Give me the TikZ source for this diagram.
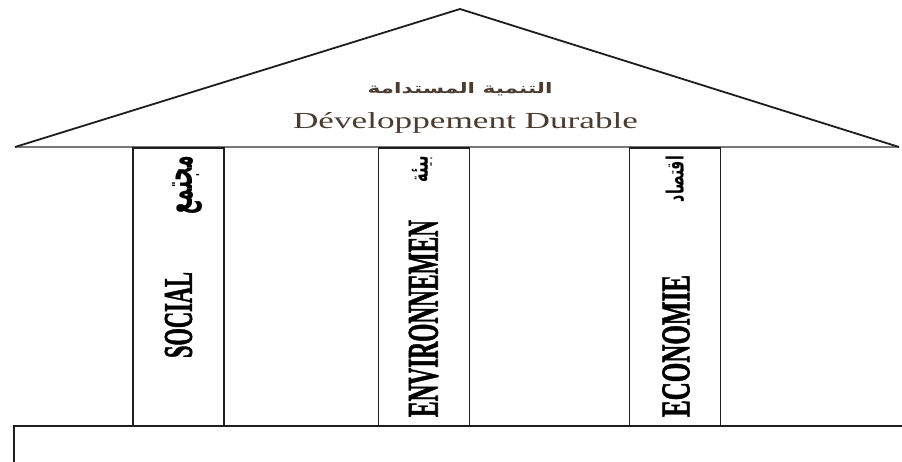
\documentclass[tikz,border=0pt]{standalone}
\usepackage{fontspec}
\usepackage{graphicx}
\setmainfont{Liberation Serif}
\newfontfamily\heavyfont[BoldFeatures={FakeBold=1.6}]{Liberation Serif}
\newfontfamily\arabicfont[Script=Arabic]{DejaVu Sans}
\TeXXeTstate=1
\definecolor{txtc}{RGB}{75,60,50}
\definecolor{linec}{RGB}{30,30,30}
\definecolor{eavec}{RGB}{120,120,120}
\tikzset{
  roofline/.style={draw=linec, line width=1.8pt, line join=miter},
  eaveline/.style={draw=eavec, line width=1.4pt},
  pillarbox/.style={draw=linec, line width=1.6pt, inner sep=0pt, minimum width=91pt, minimum height=278pt},
  lbl/.style={inner sep=0pt, outer sep=0pt},
}
\begin{document}
\begin{tikzpicture}[x=1pt,y=-1pt]
\useasboundingbox (0,0) rectangle (902,461);
\fill[white] (0,0) rectangle (902,461);
\begin{scope}
\clip (0,0) rectangle (902,461);
\coordinate (apex) at (460,9);
\coordinate (rl) at (15,147);
\coordinate (rr) at (899,147);
\draw[eaveline] (rl) -- (rr);
\draw[roofline] (rl) -- (apex) -- (rr);
\node[pillarbox] (p1) at (178.5,287) {};
\node[pillarbox] (p2) at (424,287) {};
\node[pillarbox] (p3) at (675,287) {};
\coordinate (bl) at (14,426);
\coordinate (br) at (912,480);
\draw[draw=linec, line width=1.6pt] (bl) rectangle (br);
\end{scope}
% roof texts
\node[lbl, anchor=base, text=txtc] (ar) at (460,93)
  {\resizebox{185pt}{11pt}{\arabicfont\bfseries\beginR التنمية المستدامة\endR}};
\node[lbl, anchor=base west, text=txtc] (fr) at (293,128)
  {\resizebox{345pt}{16pt}{Développement Durable}};
% pillar labels
\node[lbl, anchor=south] (soc) at (178.5,358)
  {\rotatebox{90}{\resizebox{86pt}{27pt}{\heavyfont\bfseries SOCIAL}}};
\node[lbl, anchor=south] (env) at (423.5,417)
  {\rotatebox{90}{\resizebox{197pt}{29pt}{\heavyfont\bfseries ENVIRONNEMEN}}};
\node[lbl, anchor=south] (eco) at (676,417)
  {\rotatebox{90}{\resizebox{142pt}{27pt}{\heavyfont\bfseries ECONOMIE}}};
\node[lbl, anchor=north] (soc-ar) at (187,156)
  {\rotatebox{90}{\resizebox{58pt}{20pt}{\arabicfont\bfseries\beginR مجتمع\endR}}};
\node[lbl, anchor=north] (env-ar) at (422,156)
  {\rotatebox{90}{\resizebox{26pt}{16pt}{\arabicfont\bfseries\beginR بيئة\endR}}};
\node[lbl, anchor=north] (eco-ar) at (675,156)
  {\rotatebox{90}{\resizebox{46pt}{18pt}{\arabicfont\bfseries\beginR اقتصاد\endR}}};
\end{tikzpicture}
\end{document}
